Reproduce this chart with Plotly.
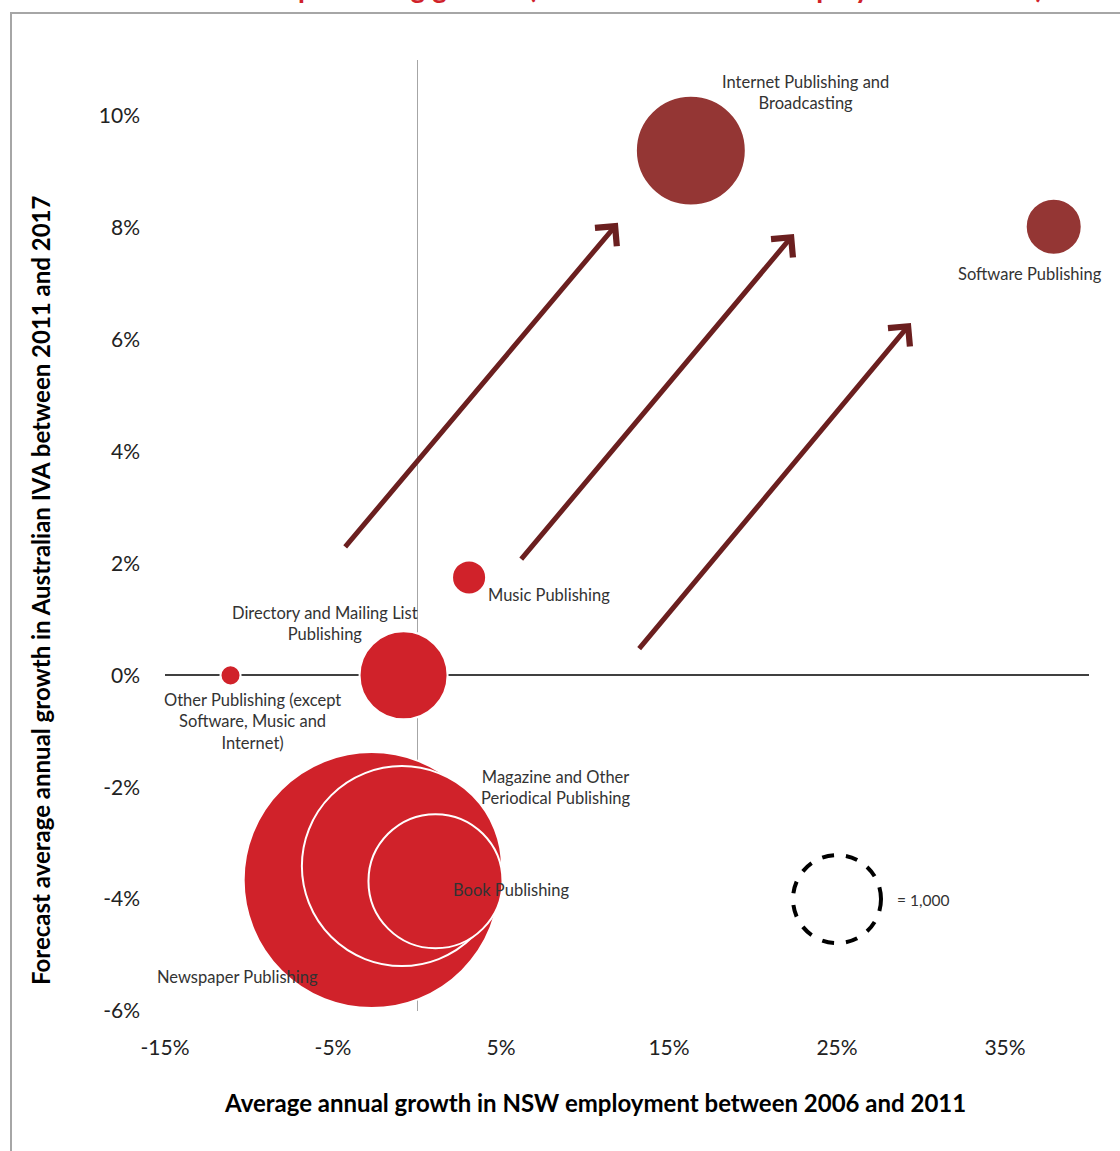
import plotly.graph_objects as go

# ---------------- data ----------------
industries = [
    "Newspaper Publishing",
    "Magazine and Other Periodical Publishing",
    "Book Publishing",
    "Directory and Mailing List Publishing",
    "Other Publishing (except Software, Music and Internet)",
    "Music Publishing",
    "Internet Publishing and Broadcasting",
    "Software Publishing",
]
emp_growth = [-2.7, -0.9, 1.1, -0.8, -11.1, 3.1, 16.3, 37.9]      # % x
iva_growth = [-3.66, -3.41, -3.68, 0.0, 0.0, 1.75, 9.38, 8.02]   # % y
employment = [8460, 5165, 2320, 1000, 52, 150, 1560, 405]        # bubble size
group = ["decline", "decline", "decline", "decline", "decline", "decline", "growth", "growth"]

label_text = [
    "Newspaper Publishing",
    "Magazine and Other<br>Periodical Publishing",
    "Book Publishing",
    "Directory and Mailing List<br>Publishing",
    "Other Publishing (except<br>Software, Music and<br>Internet)",
    "Music Publishing",
    "Internet Publishing and<br>Broadcasting",
    "Software Publishing",
]
label_x = [-10.7, 8.27, 5.6, -5.48, -9.82, 7.86, 23.15, 36.49]
label_y = [-5.40, -2.0, -3.84, 0.93, -0.83, 1.43, 10.42, 7.18]

x_ticks = [-15, -5, 5, 15, 25, 35]
y_ticks = [-6, -4, -2, 0, 2, 4, 6, 8, 10]

ref_value = 1000
ref_pos = (25, -4)

# arrows: (tail x, tail y, head x, head y)
arrows = [
    (-4.35, 2.27, 11.96, 8.09),
    (6.13, 2.05, 22.44, 7.89),
    (13.15, 0.45, 29.4, 6.30),
]

# ---------------- styling ----------------
W, H = 1120, 1151
ML, MR, MT, MB = 165, 31, 60, 140
XR = [-15, 40]
YR = [-6, 11]
colors = {"decline": "#D0222A", "growth": "#943634"}
REF_DIAM = 88.0
sizeref = 2 * ref_value / REF_DIAM ** 2
FONT = "Lato"
PW, PH = W - ML - MR, H - MT - MB

fig = go.Figure()
fig.add_trace(go.Scatter(
    x=emp_growth, y=iva_growth, mode="markers",
    marker=dict(size=employment, sizemode="area", sizeref=sizeref,
                color=[colors[g] for g in group],
                line=dict(color="white", width=2), opacity=1),
    text=industries, hoverinfo="text", showlegend=False,
))

ann = []
for t, lx, ly in zip(label_text, label_x, label_y):
    ann.append(dict(x=lx, y=ly, xref="x", yref="y", text=t, showarrow=False,
                    font=dict(family=FONT, size=16.5, color="#333333"),
                    xanchor="center", yanchor="middle"))
for tx, ty, hx, hy in arrows:
    ann.append(dict(x=hx, y=hy, ax=tx, ay=ty, xref="x", yref="y", axref="x", ayref="y",
                    text="", showarrow=True, arrowhead=4, arrowsize=1.1,
                    arrowwidth=5, arrowcolor="#6B1F1F", standoff=0, startstandoff=0))
ann.append(dict(x=28.45, y=-4.02, xref="x", yref="y", text="= 1,000", showarrow=False,
                font=dict(family=FONT, size=15.5, color="#333333"),
                xanchor="left", yanchor="middle"))
ann.append(dict(x=0.465, y=1 + (MT - 6) / PH,
                xref="paper", yref="paper",
                text="<b>Outlook for publishing growth (bubble size = NSW employment in 2011)</b>",
                showarrow=False, font=dict(family=FONT, size=28, color="#D0222A"),
                xanchor="center", yanchor="bottom"))
ann.append(dict(x=(595 - ML) / PW, y=(H - MB - 1102) / PH,
                xref="paper", yref="paper",
                text="<b>Average annual growth in NSW employment between 2006 and 2011</b>",
                showarrow=False, font=dict(family=FONT, size=24, color="#000000"),
                xanchor="center", yanchor="middle"))
ann.append(dict(x=(40 - ML) / PW, y=(H - MB - 590) / PH,
                xref="paper", yref="paper", textangle=-90,
                text="<b>Forecast average annual growth in Australian IVA between 2011 and 2017</b>",
                showarrow=False, font=dict(family=FONT, size=24, color="#000000"),
                xanchor="center", yanchor="middle"))

r = REF_DIAM / 2
shapes = [
    dict(type="circle", xref="x", yref="y", xsizemode="pixel", ysizemode="pixel",
         xanchor=ref_pos[0], yanchor=ref_pos[1], x0=-r, x1=r, y0=-r, y1=r,
         line=dict(color="black", width=4, dash="dash")),
    dict(type="rect", xref="paper", yref="paper",
         x0=(11 - ML) / PW, x1=(W + 10 - ML) / PW,
         y0=(H - MB - (H + 10)) / PH, y1=(H - MB - 13) / PH,
         line=dict(color="#A6A6A6", width=2), layer="below"),
]

fig.update_layout(
    width=W, height=H, margin=dict(l=ML, r=MR, t=MT, b=MB, pad=0),
    paper_bgcolor="white", plot_bgcolor="white",
    font=dict(family=FONT, color="#000000"),
    annotations=ann, shapes=shapes,
    xaxis=dict(range=XR, tickvals=x_ticks, ticktext=[f"{v}%" for v in x_ticks],
               showgrid=False, showline=False, ticks="", zeroline=True,
               zerolinecolor="#A6A6A6", zerolinewidth=1,
               tickfont=dict(family=FONT, size=21, color="#222222"),
               ticklabelstandoff=22, fixedrange=True),
    yaxis=dict(range=YR, tickvals=y_ticks, ticktext=[f"{v}%" for v in y_ticks],
               showgrid=False, showline=False, ticks="", zeroline=True,
               zerolinecolor="#404040", zerolinewidth=1.5,
               tickfont=dict(family=FONT, size=21, color="#222222"),
               ticklabelstandoff=24, fixedrange=True),
)

fig.write_html("out.html")
